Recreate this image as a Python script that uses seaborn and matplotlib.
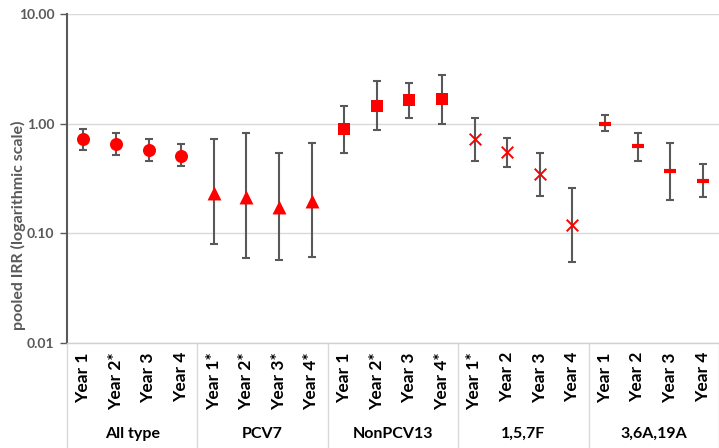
import numpy as np
import pandas as pd
import matplotlib
matplotlib.use("Agg")
import matplotlib.pyplot as plt
from matplotlib.ticker import FixedLocator, NullLocator
import seaborn as sns

groups = ["All type", "PCV7", "NonPCV13", "1,5,7F", "3,6A,19A"]
year_labels = [
    "Year 1", "Year 2*", "Year 3", "Year 4",
    "Year 1*", "Year 2*", "Year 3*", "Year 4*",
    "Year 1", "Year 2*", "Year 3", "Year 4*",
    "Year 1*", "Year 2", "Year 3", "Year 4",
    "Year 1", "Year 2", "Year 3", "Year 4",
]
irr = [0.72, 0.65, 0.58, 0.51,
       0.235, 0.215, 0.174, 0.199,
       0.89, 1.46, 1.64, 1.68,
       0.73, 0.556, 0.348, 0.119,
       1.00, 0.62, 0.37, 0.30]
ci_low = [0.575, 0.514, 0.46, 0.414,
          0.080, 0.060, 0.057, 0.061,
          0.537, 0.88, 1.13, 0.99,
          0.46, 0.406, 0.221, 0.055,
          0.85, 0.46, 0.20, 0.213]
ci_high = [0.89, 0.83, 0.73, 0.653,
           0.73, 0.816, 0.544, 0.667,
           1.46, 2.43, 2.35, 2.80,
           1.13, 0.745, 0.537, 0.257,
           1.19, 0.82, 0.67, 0.426]
y_ticks = [0.01, 0.1, 1, 10]
y_tick_labels = ["0.01", "0.10", "1.00", "10.00"]

sns.set_style("white")
plt.rcParams["font.family"] = ["Lato", "DejaVu Sans"]

df = pd.DataFrame({
    "pos": np.arange(len(irr)),
    "irr": irr,
    "lo": ci_low,
    "hi": ci_high,
    "group": np.repeat(groups, 4),
})

fig = plt.figure(figsize=(7.19, 4.48), dpi=100)
ax = fig.add_axes([67 / 719, (448 - 343) / 448, (719 - 67) / 719, (343 - 14) / 448])

ax.errorbar(df["pos"], df["irr"], yerr=[df["irr"] - df["lo"], df["hi"] - df["irr"]],
            fmt="none", ecolor="#595959", elinewidth=1.5, capsize=2.6, capthick=1.5, zorder=2)

marker_styles = {
    "All type": dict(marker="o", s=88, linewidth=0),
    "PCV7": dict(marker="^", s=100, linewidth=0),
    "NonPCV13": dict(marker="s", s=85, linewidth=0),
    "1,5,7F": dict(marker="x", s=70, linewidth=1.4),
    "3,6A,19A": dict(marker="_", s=80, linewidth=3),
}
for g in groups:
    sub = df[df["group"] == g]
    st = marker_styles[g]
    sns.scatterplot(data=sub, x="pos", y="irr", ax=ax, color="#ff0000",
                    marker=st["marker"], s=st["s"], linewidth=st["linewidth"],
                    edgecolor="#ff0000", zorder=3, legend=False)

ax.set_yscale("log")
ax.set_ylim(0.01, 10)
ax.set_xlim(-0.5, len(irr) - 0.5)
ax.yaxis.set_major_locator(FixedLocator(y_ticks))
ax.yaxis.set_minor_locator(NullLocator())
ax.set_yticklabels(y_tick_labels, fontsize=10, fontweight="bold", color="#595959")
ax.tick_params(axis="y", length=5, width=1, color="#595959", pad=4, left=True)
ax.yaxis.grid(True, color="#d9d9d9", linewidth=1)
ax.set_axisbelow(True)

ax.set_xticks(df["pos"])
ax.set_xticklabels(year_labels, rotation=90, fontsize=12.5, fontweight="bold",
                   color="black", va="top", ha="center")
ax.tick_params(axis="x", length=0, pad=6.5)

for side in ["top", "right"]:
    ax.spines[side].set_visible(False)
ax.spines["left"].set_color("#595959")
ax.spines["left"].set_linewidth(1.5)
ax.spines["bottom"].set_color("#d0d0d0")
ax.spines["bottom"].set_linewidth(1)

ax.set_xlabel("")
ax.set_ylabel("")

ax_h = 343 - 14
bottom_frac = -(448 - 343) / ax_h
trans = ax.get_xaxis_transform()
for b in [-0.5, 3.5, 7.5, 11.5, 15.5, 19.5]:
    ax.plot([b, b], [0, bottom_frac], transform=trans, color="#d9d9d9",
            linewidth=1, clip_on=False)
for i, g in enumerate(groups):
    ax.text(i * 4 + 1.5, -(434 - 343) / ax_h, g, transform=trans, ha="center",
            va="center", fontsize=11.5, fontweight="bold", color="black")

fig.text(18 / 719, 1 - 225 / 448, "pooled IRR (logarithmic scale)", rotation=90,
         ha="center", va="center", fontsize=11.5, fontweight="bold", color="#595959")

fig.savefig("out.png", dpi=100)
